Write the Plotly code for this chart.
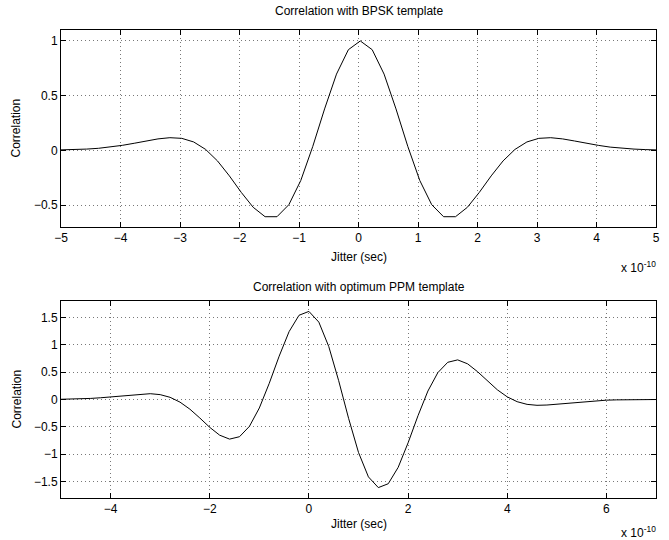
import numpy as np
import plotly.graph_objects as go

# ---- data (x in units of 1e-10 s) ----
# Top: correlation with BPSK template, samples every 0.2 starting at -5.17
x_top = np.round(np.arange(-5.17, 5.04, 0.2), 2)
y_top = [0.002, 0.004, 0.007, 0.012, 0.019, 0.030, 0.046, 0.065, 0.086, 0.105,
         0.116, 0.110, 0.077, 0.009, -0.096, -0.233, -0.384, -0.520, -0.606, -0.606,
         -0.496, -0.275, 0.034, 0.379, 0.697, 0.920, 1.000, 0.920, 0.697, 0.379,
         0.034, -0.275, -0.496, -0.606, -0.606, -0.520, -0.384, -0.233, -0.096, 0.009,
         0.077, 0.110, 0.116, 0.105, 0.086, 0.065, 0.046, 0.030, 0.019, 0.012,
         0.007, 0.004]

# Bottom: correlation with optimum PPM template, samples every 0.2 from -5 to 7
x_bot = np.round(np.arange(-5.0, 7.01, 0.2), 2)
y_bot = [0.004, 0.007, 0.012, 0.020, 0.032, 0.048, 0.066, 0.086, 0.101, 0.106,
         0.089, 0.040, -0.048, -0.177, -0.338, -0.509, -0.652, -0.724, -0.680, -0.491,
         -0.155, 0.296, 0.792, 1.240, 1.539, 1.610, 1.414, 0.968, 0.344, -0.344,
         -0.968, -1.414, -1.610, -1.539, -1.240, -0.792, -0.296, 0.155, 0.491, 0.680,
         0.724, 0.652, 0.509, 0.338, 0.177, 0.048, -0.040, -0.089, -0.106, -0.101,
         -0.086, -0.066, -0.048, -0.032, -0.020, -0.012, -0.007, -0.004, -0.002, -0.001,
         -0.0005]

top_xticks = [-5, -4, -3, -2, -1, 0, 1, 2, 3, 4, 5]
top_yticks = [-0.5, 0, 0.5, 1]
bot_xticks = [-4, -2, 0, 2, 4, 6]
bot_yticks = [-1.5, -1, -0.5, 0, 0.5, 1, 1.5]

titles = ["Correlation with BPSK template", "Correlation with optimum PPM template"]
xlabel = "Jitter (sec)"
ylabel = "Correlation"
multiplier = "x 10<sup>-10</sup>"

W, H = 669, 540
FONT = "Liberation Sans, Arial, Helvetica, sans-serif"

fig = go.Figure()
fig.add_trace(go.Scatter(x=x_top, y=y_top, mode="lines", line=dict(color="black", width=1),
                         xaxis="x", yaxis="y", showlegend=False, hoverinfo="skip"))
fig.add_trace(go.Scatter(x=x_bot, y=y_bot, mode="lines", line=dict(color="black", width=1),
                         xaxis="x2", yaxis="y2", showlegend=False, hoverinfo="skip"))

def px_x(p):
    return p / W

def px_y(p):
    return 1 - p / H

ax_common = dict(showline=True, linecolor="black", linewidth=1, mirror="ticks",
                 ticks="inside", ticklen=5, tickcolor="black", tickwidth=1,
                 showgrid=True, gridcolor="rgb(120,120,120)", griddash="1px,3px", gridwidth=1,
                 zeroline=False, tickfont=dict(family=FONT, size=12, color="black"),
                 fixedrange=True, automargin=False)

xdom = [px_x(61), px_x(656)]
fig.update_layout(
    width=W, height=H, margin=dict(l=0, r=0, t=0, b=0, autoexpand=False),
    paper_bgcolor="white", plot_bgcolor="white",
    font=dict(family=FONT, size=12, color="black"),
    xaxis=dict(domain=xdom, range=[-5, 5], tickvals=top_xticks, anchor="y", **ax_common),
    yaxis=dict(domain=[px_y(227), px_y(30)], range=[-0.7, 1.1], tickvals=top_yticks,
               anchor="x", **ax_common),
    xaxis2=dict(domain=xdom, range=[-5, 7], tickvals=bot_xticks, anchor="y2", **ax_common),
    yaxis2=dict(domain=[px_y(498), px_y(301)], range=[-1.8, 1.8], tickvals=bot_yticks,
                anchor="x2", **ax_common),
)

cx = (61 + 656) / 2 / W
ann = []
for title, ty, lx_y, mult_y, cy in [(titles[0], 11, 257, 267, (30 + 227) / 2),
                                     (titles[1], 287, 524, 532, (301 + 498) / 2)]:
    ann.append(dict(text=title, x=cx, y=px_y(ty), xref="paper", yref="paper",
                    xanchor="center", yanchor="middle", showarrow=False,
                    font=dict(family=FONT, size=12)))
    ann.append(dict(text=xlabel, x=cx, y=px_y(lx_y), xref="paper", yref="paper",
                    xanchor="center", yanchor="middle", showarrow=False,
                    font=dict(family=FONT, size=12)))
    ann.append(dict(text=ylabel, x=px_x(16), y=px_y(cy), xref="paper", yref="paper",
                    xanchor="center", yanchor="middle", showarrow=False, textangle=-90,
                    font=dict(family=FONT, size=12)))
    ann.append(dict(text=multiplier, x=px_x(658), y=px_y(mult_y), xref="paper", yref="paper",
                    xanchor="right", yanchor="middle", showarrow=False,
                    font=dict(family=FONT, size=12)))
fig.update_layout(annotations=ann)

fig.write_html("out.html", config={"displayModeBar": False},
               post_script="document.body.style.margin='0';document.body.style.padding='0';")
